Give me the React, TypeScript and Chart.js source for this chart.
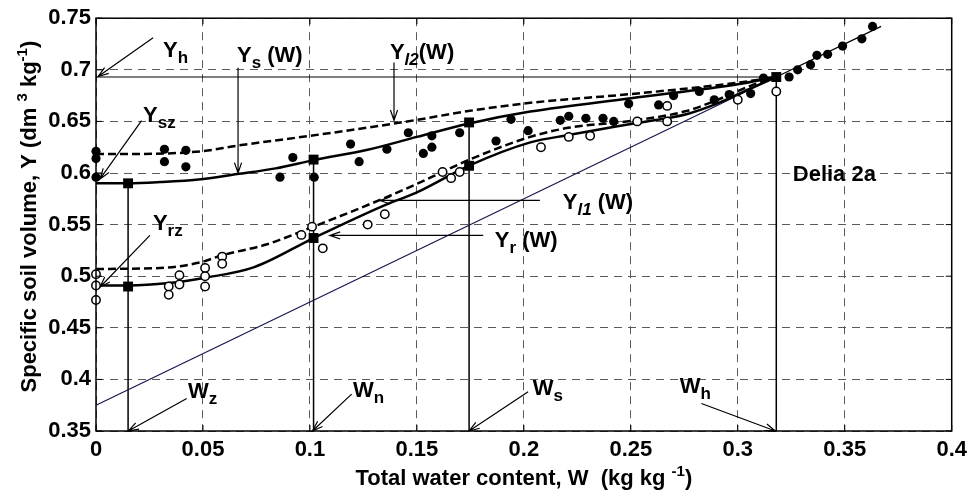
import React, { useEffect, useRef } from 'react';
import { Chart, registerables } from 'chart.js';

Chart.register(...registerables);

const FONT = '"Liberation Sans", Arial, Helvetica, sans-serif';

// ---- axes ----
const xTicks = [0, 0.05, 0.1, 0.15, 0.2, 0.25, 0.3, 0.35, 0.4];
const xTickLabels = ['0', '0.05', '0.1', '0.15', '0.2', '0.25', '0.3', '0.35', '0.4'];
const yTicks = [0.35, 0.4, 0.45, 0.5, 0.55, 0.6, 0.65, 0.7, 0.75];
const yTickLabels = ['0.35', '0.4', '0.45', '0.5', '0.55', '0.6', '0.65', '0.7', '0.75'];

// ---- measured points: filled circles (shrinkage data) ----
const filledW = [0, 0, 0, 0.032, 0.032, 0.042, 0.042, 0.086, 0.092, 0.102, 0.119, 0.123, 0.136, 0.146, 0.153, 0.157, 0.157, 0.170, 0.187, 0.194, 0.202, 0.217, 0.221, 0.229, 0.237, 0.242, 0.249, 0.263, 0.270, 0.282, 0.289, 0.296, 0.306, 0.312, 0.324, 0.328, 0.334, 0.337, 0.342, 0.349, 0.358, 0.363];
const filledY = [0.621, 0.614, 0.596, 0.623, 0.611, 0.622, 0.606, 0.596, 0.615, 0.596, 0.628, 0.611, 0.623, 0.639, 0.619, 0.625, 0.636, 0.639, 0.631, 0.652, 0.641, 0.651, 0.655, 0.653, 0.653, 0.650, 0.667, 0.666, 0.675, 0.679, 0.671, 0.676, 0.677, 0.692, 0.693, 0.700, 0.705, 0.714, 0.715, 0.723, 0.730, 0.742];

// ---- measured points: open circles ----
const openW = [0, 0, 0, 0.034, 0.034, 0.039, 0.039, 0.051, 0.051, 0.051, 0.059, 0.059, 0.096, 0.101, 0.106, 0.127, 0.135, 0.162, 0.166, 0.170, 0.208, 0.221, 0.231, 0.253, 0.267, 0.267, 0.300, 0.318];
const openY = [0.502, 0.491, 0.477, 0.490, 0.482, 0.501, 0.492, 0.508, 0.500, 0.490, 0.519, 0.512, 0.540, 0.548, 0.527, 0.550, 0.560, 0.601, 0.595, 0.601, 0.625, 0.635, 0.636, 0.650, 0.650, 0.665, 0.671, 0.679];

// ---- characteristic points (squares) ----
const keyW = [0.015, 0.1017, 0.1744, 0.318];
const keyUpperY = [0.590, 0.613, 0.649, 0.693];
const keyLowerW = [0.015, 0.1017, 0.1744];
const keyLowerY = [0.490, 0.537, 0.607];

// ---- curves ----
const ysW = [0, 0.015, 0.03, 0.049, 0.066, 0.084, 0.1017, 0.127, 0.15, 0.1744, 0.203, 0.25, 0.3, 0.318];
const ysY = [0.590, 0.590, 0.5912, 0.594, 0.599, 0.6045, 0.6125, 0.6225, 0.635, 0.648, 0.6595, 0.6725, 0.686, 0.693];
const yl2W = [0, 0.02, 0.049, 0.066, 0.1, 0.127, 0.15, 0.174, 0.203, 0.25, 0.3, 0.318];
const yl2Y = [0.6185, 0.6185, 0.621, 0.6265, 0.636, 0.644, 0.6515, 0.660, 0.668, 0.6765, 0.6875, 0.693];
const yl1W = [0, 0.03, 0.049, 0.0585, 0.08, 0.101, 0.134, 0.15, 0.162, 0.174, 0.203, 0.2215, 0.25, 0.276, 0.29, 0.306, 0.318];
const yl1Y = [0.507, 0.508, 0.5135, 0.520, 0.531, 0.5475, 0.575, 0.5895, 0.601, 0.6125, 0.635, 0.644, 0.6505, 0.660, 0.6705, 0.6845, 0.693];
const yrW = [0, 0.015, 0.034, 0.051, 0.074, 0.1017, 0.134, 0.15, 0.1744, 0.203, 0.2215, 0.25, 0.276, 0.29, 0.306, 0.318];
const yrY = [0.491, 0.491, 0.4933, 0.4985, 0.5088, 0.537, 0.568, 0.5813, 0.6072, 0.6297, 0.637, 0.6475, 0.657, 0.667, 0.682, 0.693];

// saturation line and its continuation
const satW = [0, 0.318];
const satY = [0.375, 0.693];
const contW = [0.318, 0.367];
const contY = [0.693, 0.742];

// horizontal Yh line
const yhW = [0, 0.318];
const yhY = [0.693, 0.693];
const axisBottom = 0.35;

// ---- annotation arrows (from -> to, in data units) ----
const pointerArrows = [
  { from: [0.0267, 0.731], to: [0.001, 0.6935] },
  { from: [0.0664, 0.702], to: [0.0664, 0.600] },
  { from: [0.1393, 0.707], to: [0.1393, 0.651] },
  { from: [0.0213, 0.6507], to: [0.0019, 0.5943] },
  { from: [0.0252, 0.5395], to: [0.0019, 0.4895] },
  { from: [0.2075, 0.5734], to: [0.1327, 0.5734] },
  { from: [0.181, 0.5395], to: [0.1093, 0.5395] },
  { from: [0.0424, 0.3814], to: [0.0151, 0.35] },
  { from: [0.1195, 0.3857], to: [0.1012, 0.35] },
  { from: [0.202, 0.388], to: [0.1744, 0.35] },
  { from: [0.283, 0.3767], to: [0.3176, 0.35] },
];

type Part = { t: string; k?: 'sub' | 'subi' | 'sup' };

// ---- annotation labels ----
const noteLabels: { at: [number, number]; parts: Part[] }[] = [
  { at: [0.0313, 0.7126], parts: [{ t: 'Y' }, { t: 'h', k: 'sub' }] },
  { at: [0.0659, 0.7077], parts: [{ t: 'Y' }, { t: 's', k: 'sub' }, { t: ' (W)' }] },
  { at: [0.1374, 0.7106], parts: [{ t: 'Y' }, { t: 'l2', k: 'subi' }, { t: '(W)' }] },
  { at: [0.022, 0.6497], parts: [{ t: 'Y' }, { t: 'sz', k: 'sub' }] },
  { at: [0.0266, 0.5443], parts: [{ t: 'Y' }, { t: 'rz', k: 'sub' }] },
  { at: [0.2182, 0.5655], parts: [{ t: 'Y' }, { t: 'l1', k: 'subi' }, { t: ' (W)' }] },
  { at: [0.1864, 0.5279], parts: [{ t: 'Y' }, { t: 'r', k: 'sub' }, { t: ' (W)' }] },
  { at: [0.3257, 0.5926], parts: [{ t: 'Delia 2a' }] },
  { at: [0.043, 0.3819], parts: [{ t: 'W' }, { t: 'z', k: 'sub' }] },
  { at: [0.1201, 0.3828], parts: [{ t: 'W' }, { t: 'n', k: 'sub' }] },
  { at: [0.2042, 0.3848], parts: [{ t: 'W' }, { t: 's', k: 'sub' }] },
  { at: [0.2729, 0.3867], parts: [{ t: 'W' }, { t: 'h', k: 'sub' }] },
];

const xTitleParts: Part[] = [{ t: 'Total water content, W  (kg kg ' }, { t: '-1', k: 'sup' }, { t: ')' }];
const yTitleParts: Part[] = [
  { t: 'Specific soil volume, Y (dm ' },
  { t: '3', k: 'sup' },
  { t: ' kg' },
  { t: '-1', k: 'sup' },
  { t: ')' },
];

const pts = (ws: number[], ys: number[]) => ws.map((w, i) => ({ x: w, y: ys[i] }));

function fontFor(k: Part['k'], main: number, small: number) {
  if (k === 'subi') return `italic bold ${small}px ${FONT}`;
  if (k) return `bold ${small}px ${FONT}`;
  return `bold ${main}px ${FONT}`;
}

function drawRich(ctx: CanvasRenderingContext2D, parts: Part[], x: number, y: number, center: boolean, main: number, small: number, shift: number) {
  let total = 0;
  const widths = parts.map((p) => {
    ctx.font = fontFor(p.k, main, small);
    const w = ctx.measureText(p.t).width;
    total += w;
    return w;
  });
  let cx = center ? x - total / 2 : x;
  ctx.textAlign = 'left';
  ctx.textBaseline = 'alphabetic';
  parts.forEach((p, i) => {
    ctx.font = fontFor(p.k, main, small);
    const dy = p.k === 'sup' ? -shift : p.k ? shift : 0;
    ctx.fillText(p.t, cx, y + dy);
    cx += widths[i];
  });
}

const overlay = {
  id: 'overlay',
  afterDatasetsDraw(chart: any) {
    const ctx: CanvasRenderingContext2D = chart.ctx;
    const xs = chart.scales.x;
    const ys = chart.scales.y;
    const { left, right, top, bottom } = chart.chartArea;
    ctx.save();
    ctx.fillStyle = '#000';
    ctx.strokeStyle = '#000';

    // arrows
    ctx.lineWidth = 1.2;
    pointerArrows.forEach((a) => {
      const x1 = xs.getPixelForValue(a.from[0]);
      const y1 = ys.getPixelForValue(a.from[1]);
      const x2 = xs.getPixelForValue(a.to[0]);
      const y2 = ys.getPixelForValue(a.to[1]);
      ctx.beginPath();
      ctx.moveTo(x1, y1);
      ctx.lineTo(x2, y2);
      const ang = Math.atan2(y2 - y1, x2 - x1);
      const hl = 11;
      const ha = 0.33;
      ctx.moveTo(x2 - hl * Math.cos(ang - ha), y2 - hl * Math.sin(ang - ha));
      ctx.lineTo(x2, y2);
      ctx.lineTo(x2 - hl * Math.cos(ang + ha), y2 - hl * Math.sin(ang + ha));
      ctx.stroke();
    });

    // labels
    noteLabels.forEach((n) => {
      drawRich(ctx, n.parts, xs.getPixelForValue(n.at[0]), ys.getPixelForValue(n.at[1]), false, 22, 17, 6);
    });

    // box
    ctx.lineWidth = 1.5;
    ctx.setLineDash([]);
    ctx.strokeRect(left, top, right - left, bottom - top);
    // inward ticks
    ctx.lineWidth = 1;
    ctx.beginPath();
    xTicks.forEach((v) => {
      const px = xs.getPixelForValue(v);
      ctx.moveTo(px, bottom);
      ctx.lineTo(px, bottom - 6);
      ctx.moveTo(px, top);
      ctx.lineTo(px, top + 6);
    });
    yTicks.forEach((v) => {
      const py = ys.getPixelForValue(v);
      ctx.moveTo(left, py);
      ctx.lineTo(left + 6, py);
      ctx.moveTo(right, py);
      ctx.lineTo(right - 6, py);
    });
    ctx.stroke();

    // axis titles
    drawRich(ctx, xTitleParts, (left + right) / 2, 485, true, 22, 15, 9);
    ctx.translate(36, (top + bottom) / 2 - 8);
    ctx.rotate(-Math.PI / 2);
    drawRich(ctx, yTitleParts, 0, 0, true, 22, 15, 9);
    ctx.restore();
  },
};

export default function App() {
  const ref = useRef<HTMLCanvasElement>(null);
  useEffect(() => {
    const canvas = ref.current!;
    const lineDs = (data: any[], extra: any = {}) => ({
      type: 'scatter',
      data,
      showLine: true,
      pointRadius: 0,
      borderColor: '#000',
      borderWidth: 2.5,
      fill: false,
      clip: false,
      ...extra,
    });
    const chart = new Chart(canvas, {
      type: 'scatter',
      data: {
        datasets: [
          {
            data: pts(keyW, keyUpperY).concat(pts(keyLowerW, keyLowerY)),
            pointStyle: 'rect',
            pointRadius: 7,
            backgroundColor: '#000',
            borderColor: '#000',
            borderWidth: 0,
            clip: false,
          } as any,
          {
            data: pts(filledW, filledY),
            pointRadius: 4.6,
            backgroundColor: '#000',
            borderColor: '#000',
            borderWidth: 0,
            clip: false,
          },
          {
            data: pts(openW, openY),
            pointRadius: 4.2,
            backgroundColor: '#fff',
            borderColor: '#000',
            borderWidth: 1.5,
            clip: false,
          },
          lineDs(pts(ysW, ysY), { cubicInterpolationMode: 'monotone' }),
          lineDs(pts(yl2W, yl2Y), { cubicInterpolationMode: 'monotone', borderDash: [8, 4] }),
          lineDs(pts(yl1W, yl1Y), { cubicInterpolationMode: 'monotone', borderDash: [8, 4] }),
          lineDs(pts(yrW, yrY), { cubicInterpolationMode: 'monotone' }),
          lineDs(pts(satW, satY), { borderColor: '#16164f', borderWidth: 1.2 }),
          lineDs(pts(contW, contY), { borderWidth: 1.3 }),
          lineDs(pts(yhW, yhY), { borderWidth: 1.2 }),
          ...keyW.map((w, i) =>
            lineDs([{ x: w, y: axisBottom }, { x: w, y: keyUpperY[i] }], { borderWidth: 1.5 })
          ),
        ] as any,
      },
      options: {
        responsive: false,
        animation: false,
        events: [],
        layout: { padding: { left: 0, right: 21, top: 17, bottom: 0 } },
        plugins: { legend: { display: false }, tooltip: { enabled: false } },
        scales: {
          x: {
            type: 'linear',
            min: 0,
            max: 0.4,
            afterBuildTicks: (s: any) => {
              s.ticks = xTicks.map((v) => ({ value: v }));
            },
            afterFit: (s: any) => {
              s.height = 68;
            },
            ticks: {
              autoSkip: false,
              maxRotation: 0,
              padding: 6,
              color: '#000',
              font: { family: FONT, size: 22, weight: 'bold' },
              callback: (_v: any, i: number) => xTickLabels[i],
            },
            grid: { color: '#5a5a5a', lineWidth: 1, drawTicks: false },
            border: { display: false, dash: [8, 6] },
          },
          y: {
            type: 'linear',
            min: 0.35,
            max: 0.75,
            afterBuildTicks: (s: any) => {
              s.ticks = yTicks.map((v) => ({ value: v }));
            },
            afterFit: (s: any) => {
              s.width = 96;
            },
            ticks: {
              autoSkip: false,
              padding: 5,
              color: '#000',
              font: { family: FONT, size: 22, weight: 'bold' },
              callback: (_v: any, i: number) => yTickLabels[i],
            },
            grid: { color: '#5a5a5a', lineWidth: 1, drawTicks: false },
            border: { display: false, dash: [8, 6] },
          },
        },
      } as any,
      plugins: [overlay],
    });
    return () => chart.destroy();
  }, []);
  return (
    <canvas
      ref={ref}
      width={973}
      height={499}
      style={{ position: 'fixed', left: 0, top: 0, width: '973px', height: '499px', display: 'block' }}
    />
  );
}
